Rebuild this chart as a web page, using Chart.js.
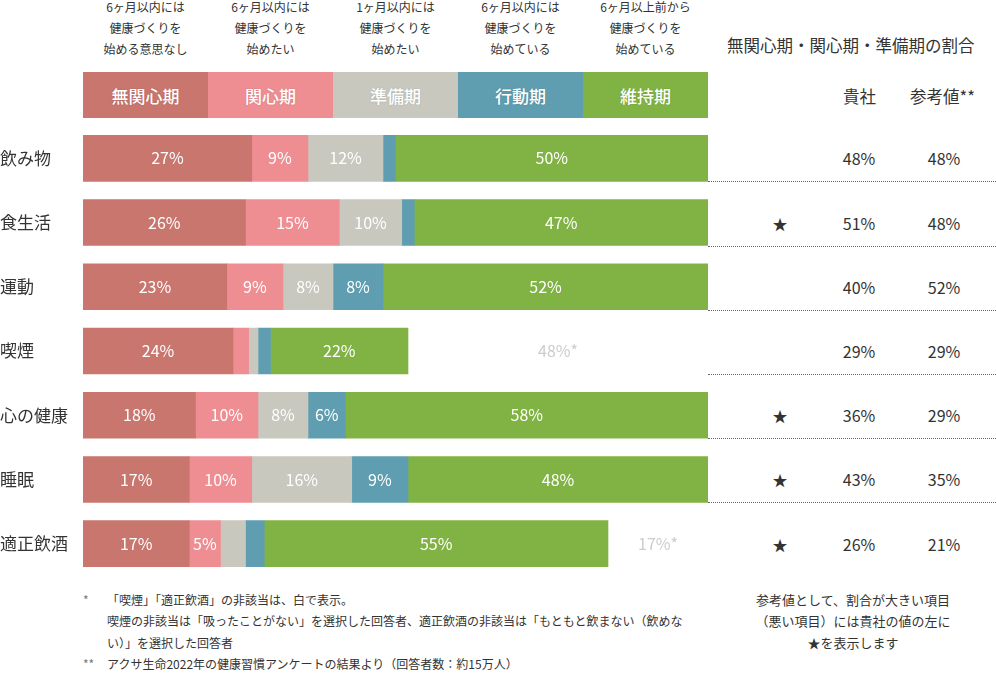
<!DOCTYPE html>
<html lang="ja">
<head>
<meta charset="utf-8">
<script src="https://cdn.jsdelivr.net/npm/chart.js@4.4.1/dist/chart.umd.min.js"></script>
<style>
  html, body { margin:0; padding:0; background:#fff; }
  body { width:996px; height:690px; position:relative; overflow:hidden;
         font-family:"Noto Sans CJK JP","Noto Sans",sans-serif; color:#333; }
  #wrap { position:absolute; left:0; top:116px; width:712px; height:470px; }
  .desc { position:absolute; top:-4px; width:125px; text-align:center; font-size:12px; line-height:21px; color:#333; }
  .stage { position:absolute; top:72px; height:46px; width:125px; color:#fff; font-size:17px; font-weight:500;
           display:flex; align-items:center; justify-content:center; text-shadow:0 0 2px rgba(0,0,0,0.15); }
  .abs { position:absolute; white-space:nowrap; }
  .cell { position:absolute; font-size:16px; text-align:center; width:80px; transform:translate(-40px,-50%); }
  .dots { position:absolute; left:708px; width:288px; height:0; border-top:1px dotted #666; }
  .note { position:absolute; font-size:12px; line-height:21.3px; color:#333; }
</style>
</head>
<body>
<div id="wrap"><canvas id="c" width="712" height="470"></canvas></div>
<div id="overlay"></div>
<script>
// ---- data ----
const categories = ['飲み物','食生活','運動','喫煙','心の健康','睡眠','適正飲酒'];
const stageNames = ['無関心期','関心期','準備期','行動期','維持期'];
const stageDescriptions = [
  ['6ヶ月以内には','健康づくりを','始める意思なし'],
  ['6ヶ月以内には','健康づくりを','始めたい'],
  ['1ヶ月以内には','健康づくりを','始めたい'],
  ['6ヶ月以内には','健康づくりを','始めている'],
  ['6ヶ月以上前から','健康づくりを','始めている']
];
const mukanshin = [27, 26, 23, 24, 18, 17, 17];
const kanshin   = [9, 15, 9, 2.5, 10, 10, 5];
const junbi     = [12, 10, 8, 1.5, 8, 16, 4];
const kodo      = [2, 2, 8, 2, 6, 9, 3];
const iji       = [50, 47, 52, 22, 58, 48, 55];
const higaito   = [0, 0, 0, 48, 0, 0, 17];   // 非該当 (white)
const companyRatio   = [48, 51, 40, 29, 36, 43, 26];
const referenceRatio = [48, 48, 52, 29, 29, 35, 21];
const stageColors = ['#C8766E', '#EE8E93', '#C8C8BE', '#5E9EB0', '#80B343'];

// ---- header ----
const overlay = document.getElementById('overlay');
const barLeft = 83, segW = 125;
stageNames.forEach((n, i) => {
  const d = document.createElement('div');
  d.className = 'desc'; d.style.left = (barLeft + i*segW) + 'px';
  d.innerHTML = stageDescriptions[i].join('<br>');
  overlay.appendChild(d);
  const s = document.createElement('div');
  s.className = 'stage'; s.style.left = (barLeft + i*segW) + 'px';
  s.style.background = stageColors[i]; s.textContent = n;
  overlay.appendChild(s);
});

function addAbs(html, styles) {
  const e = document.createElement('div'); e.className = 'abs'; e.innerHTML = html;
  Object.assign(e.style, styles); overlay.appendChild(e); return e;
}
addAbs('無関心期・関心期・準備期の割合', {left:'727px', top:'33px', fontSize:'16.5px'});
addAbs('貴社', {left:'843px', top:'84px', fontSize:'16.5px'});
addAbs('参考値**', {left:'910px', top:'84px', fontSize:'16.5px'});

// footnotes
const fn = document.createElement('div');
fn.className = 'note'; fn.style.left = '83px'; fn.style.top = '589px';
fn.innerHTML =
 '<div><span style="display:inline-block;width:24px;color:#777">*</span>「喫煙」「適正飲酒」の非該当は、白で表示。</div>' +
 '<div style="padding-left:24px">喫煙の非該当は「吸ったことがない」を選択した回答者、適正飲酒の非該当は「もともと飲まない（飲めな</div>' +
 '<div style="padding-left:24px">い）」を選択した回答者</div>' +
 '<div><span style="display:inline-block;width:24px;color:#777">**</span>アクサ生命2022年の健康習慣アンケートの結果より（回答者数：約15万人）</div>';
overlay.appendChild(fn);
const rn = document.createElement('div');
rn.className = 'note'; rn.style.left = '710px'; rn.style.width = '286px'; rn.style.top = '589px';
rn.style.textAlign = 'center'; rn.style.fontSize = '13px';
rn.innerHTML = '参考値として、割合が大きい項目<br>（悪い項目）には貴社の値の左に<br>★を表示します';
overlay.appendChild(rn);

// ---- chart ----
const allSeries = [mukanshin, kanshin, junbi, kodo, iji];
const datasets = allSeries.map((arr, i) => ({
  label: stageNames[i], data: arr, backgroundColor: stageColors[i],
  borderWidth: 0, barThickness: 46
}));
datasets.push({ label: '非該当', data: higaito, backgroundColor: 'rgba(255,255,255,0)', borderWidth: 0, barThickness: 46 });

const labelPlugin = {
  id: 'segLabels',
  afterDatasetsDraw(chart) {
    const ctx = chart.ctx, area = chart.chartArea;
    ctx.save();
    ctx.textAlign = 'center'; ctx.textBaseline = 'middle';
    chart.data.datasets.forEach((ds, di) => {
      const meta = chart.getDatasetMeta(di);
      meta.data.forEach((el, j) => {
        const v = ds.data[j];
        if (!v || v < 5) return;
        const x1 = Math.min(el.x, area.right), x0 = Math.max(el.base, area.left);
        const cx = (x0 + x1) / 2;
        if (di === 5) {
          ctx.fillStyle = '#cccccc'; ctx.font = '16px "Noto Sans CJK JP", sans-serif';
          ctx.fillText(v + '%*', cx, el.y);
        } else {
          ctx.fillStyle = '#ffffff'; ctx.font = '16px "Noto Sans CJK JP", sans-serif';
          ctx.fillText(v + '%', cx, el.y);
        }
      });
    });
    ctx.restore();
  }
};

const chart = new Chart(document.getElementById('c'), {
  type: 'bar',
  data: { labels: categories, datasets },
  options: {
    indexAxis: 'y', responsive: false, animation: false,
    layout: { padding: { top: 0, bottom: 0, right: 4, left: 0 } },
    plugins: { legend: { display: false }, tooltip: { enabled: false } },
    scales: {
      x: { stacked: true, min: 0, max: 100, display: false },
      y: { stacked: true, grid: { display: false }, border: { display: false },
           ticks: { crossAlign: 'far', padding: 0, color: '#333',
                    font: { size: 17, family: '"Noto Sans CJK JP", sans-serif' } },
           afterFit(s) { s.width = 83; } }
    }
  },
  plugins: [labelPlugin]
});

// ---- right table ----
const wrapTop = 116;
categories.forEach((c, i) => {
  const y = wrapTop + chart.scales.y.getPixelForValue(i);
  if (companyRatio[i] > referenceRatio[i]) {
    const s = document.createElement('div'); s.className = 'cell';
    s.style.left = '780px'; s.style.top = y + 'px'; s.textContent = '★'; s.style.fontSize = '15px';
    overlay.appendChild(s);
  }
  const a = document.createElement('div'); a.className = 'cell';
  a.style.left = '859px'; a.style.top = y + 'px'; a.textContent = companyRatio[i] + '%';
  overlay.appendChild(a);
  const b = document.createElement('div'); b.className = 'cell';
  b.style.left = '944px'; b.style.top = y + 'px'; b.textContent = referenceRatio[i] + '%';
  overlay.appendChild(b);
  if (i < categories.length - 1) {
    const d = document.createElement('div'); d.className = 'dots';
    d.style.top = Math.round(y + 23) + 'px';
    overlay.appendChild(d);
  }
});
</script>
</body>
</html>
